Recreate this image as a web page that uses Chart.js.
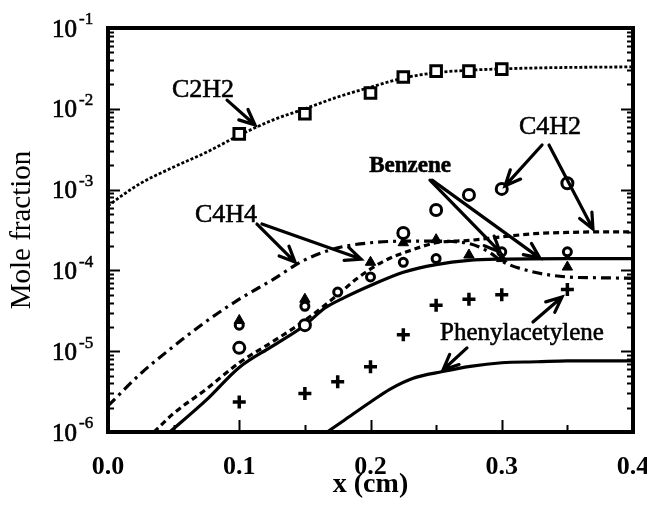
<!DOCTYPE html>
<html><head><meta charset="utf-8">
<script src="https://cdn.jsdelivr.net/npm/chart.js@4/dist/chart.umd.min.js"></script>
<style>html,body{margin:0;padding:0;background:#fff;}#wrap{position:relative;width:647px;height:505px;}</style>
</head><body><div id="wrap"><canvas id="c" width="647" height="505" style="width:647px;height:505px"></canvas></div>
<script>
const c2h2X = [0.1, 0.15, 0.2, 0.225, 0.25, 0.275, 0.3];
const c2h2Y = [4.9e-3, 8.7e-3, 1.57e-2, 2.48e-2, 2.93e-2, 2.93e-2, 3.1e-2];
const c4h2X = [0.1, 0.15, 0.225, 0.25, 0.275, 0.3, 0.35];
const c4h2Y = [1.1e-5, 2.1e-5, 2.9e-4, 5.6e-4, 8.6e-4, 1.02e-3, 1.2e-3];
const c4h4X = [0.1, 0.15, 0.2, 0.225, 0.25, 0.275, 0.3, 0.35];
const c4h4Y = [2.4e-5, 4.4e-5, 1.26e-4, 2.2e-4, 2.4e-4, 1.55e-4, 1.4e-4, 1.1e-4];
const benzX = [0.1, 0.15, 0.175, 0.2, 0.225, 0.25, 0.3, 0.35];
const benzY = [2.1e-5, 3.6e-5, 5.4e-5, 8.3e-5, 1.26e-4, 1.4e-4, 1.7e-4, 1.7e-4];
const phenX = [0.1, 0.15, 0.175, 0.2, 0.225, 0.25, 0.275, 0.3, 0.35];
const phenY = [2.35e-6, 3.0e-6, 4.2e-6, 6.4e-6, 1.6e-5, 3.7e-5, 4.4e-5, 5.0e-5, 5.8e-5];

// ---- model curves ----
const c2h2ModelX = [0, 0.01, 0.025, 0.05, 0.075, 0.1, 0.125, 0.15, 0.175, 0.2, 0.225, 0.25, 0.275, 0.3, 0.325, 0.35, 0.375, 0.4];
const c2h2ModelY = [6.3e-4, 8.3e-4, 1.2e-3, 1.9e-3, 2.9e-3, 4.7e-3, 7.2e-3, 1.0e-2, 1.4e-2, 1.85e-2, 2.4e-2, 2.8e-2, 3.0e-2, 3.12e-2, 3.2e-2, 3.25e-2, 3.28e-2, 3.3e-2];
const c4h4ModelX = [0, 0.025, 0.05, 0.075, 0.1, 0.125, 0.15, 0.175, 0.2, 0.225, 0.25, 0.275, 0.29, 0.3, 0.325, 0.35, 0.375, 0.4];
const c4h4ModelY = [2.1e-6, 5.3e-6, 1.15e-5, 2.35e-5, 4.4e-5, 7.6e-5, 1.35e-4, 1.9e-4, 2.2e-4, 2.3e-4, 2.3e-4, 2.15e-4, 1.7e-4, 1.3e-4, 9.5e-5, 8.3e-5, 8.1e-5, 8.0e-5];
const c4h2ModelX = [0.035, 0.05, 0.075, 0.1, 0.125, 0.15, 0.175, 0.19, 0.21, 0.232, 0.25, 0.275, 0.3, 0.325, 0.35, 0.375, 0.4];
const c4h2ModelY = [1e-6, 1.7e-6, 3.4e-6, 7.2e-6, 1.3e-5, 2.4e-5, 5.0e-5, 8.0e-5, 1.3e-4, 1.8e-4, 2.2e-4, 2.35e-4, 2.6e-4, 2.85e-4, 2.95e-4, 3.0e-4, 3.0e-4];
const benzModelX = [0.047, 0.075, 0.1, 0.125, 0.15, 0.165, 0.18, 0.2, 0.225, 0.25, 0.275, 0.3, 0.35, 0.4];
const benzModelY = [1e-6, 2.5e-6, 6.3e-6, 1.15e-5, 2.1e-5, 3.4e-5, 4.6e-5, 6.5e-5, 9.5e-5, 1.18e-4, 1.33e-4, 1.38e-4, 1.4e-4, 1.4e-4];
const phenModelX = [0.167, 0.18, 0.2, 0.215, 0.232, 0.255, 0.276, 0.3, 0.327, 0.35, 0.4];
const phenModelY = [1e-6, 1.4e-6, 2.35e-6, 3.4e-6, 4.6e-6, 5.6e-6, 6.5e-6, 7.2e-6, 7.4e-6, 7.6e-6, 7.6e-6];

// ---- axis ticks ----
const xTickLabels = ['0.0', '0.1', '0.2', '0.3', '0.4'];
const yDecades = [-6, -5, -4, -3, -2, -1];

// ---- annotations (data coordinates) ----
const labels = [
  {text: 'C2H2', x: 0.0724, y: 1.71e-2, font: '26px'},
  {text: 'C4H4', x: 0.0899, y: 4.85e-4, font: '26px'},
  {text: 'C4H2', x: 0.3368, y: 5.96e-3, font: '26px'},
  {text: 'Benzene', x: 0.2301, y: 1.96e-3, font: 'bold 23px'},
  {text: 'Phenylacetylene', x: 0.3154, y: 1.68e-5, font: '25px'}
];
const arrows = [
  {x0: 0.0907, y0: 1.28e-2, x1: 0.112, y1: 6.3e-3},
  {x0: 0.1135, y0: 3.75e-4, x1: 0.1425, y1: 1.27e-4},
  {x0: 0.1173, y0: 3.75e-4, x1: 0.1928, y1: 1.38e-4},
  {x0: 0.3307, y0: 3.56e-3, x1: 0.3025, y1: 1.11e-3},
  {x0: 0.336, y0: 3.56e-3, x1: 0.3695, y1: 3.25e-4},
  {x0: 0.2453, y0: 1.31e-3, x1: 0.2987, y1: 1.69e-4},
  {x0: 0.2469, y0: 1.31e-3, x1: 0.3291, y1: 1.42e-4},
  {x0: 0.3238, y0: 2.30e-5, x1: 0.3459, y1: 4.69e-5},
  {x0: 0.2735, y0: 1.10e-5, x1: 0.2552, y1: 5.85e-6}
];

const pts = (xs, ys) => xs.map((x, i) => ({x: x, y: ys[i]}));
const FONT = '"Liberation Serif", "Times New Roman", serif';

const markerDs = (label, xs, ys, style, r, fill, bw) => ({
  label, data: pts(xs, ys), showLine: false, pointStyle: style, pointRadius: r,
  pointBackgroundColor: fill, pointBorderColor: '#000', pointBorderWidth: bw, order: 0
});
const lineDs = (label, xs, ys, dash, w) => ({
  label, data: pts(xs, ys), showLine: true, pointRadius: 0, borderColor: '#000',
  borderWidth: w, borderDash: dash, cubicInterpolationMode: 'monotone', fill: false, order: 1
});

function heavyText(ctx, t, x, y, sw) {
  ctx.fillText(t, x, y);
  ctx.lineWidth = sw;
  ctx.strokeText(t, x, y);
}

const framePlugin = {
  id: 'frame',
  afterDatasetsDraw(chart) {
    const {ctx, chartArea: a, scales: {x, y}} = chart;
    ctx.save();
    ctx.strokeStyle = '#000';
    ctx.lineWidth = 2;
    ctx.beginPath();
    yDecades.forEach(d => {
      for (let m = 1; m <= 9; m++) {
        const v = m * Math.pow(10, d);
        if (v > 0.1 + 1e-12) continue;
        const py = Math.round(y.getPixelForValue(v)) + 0.5;
        const len = m === 1 ? 12 : 6;
        ctx.moveTo(a.left, py); ctx.lineTo(a.left + len, py);
        ctx.moveTo(a.right, py); ctx.lineTo(a.right - len, py);
      }
    });
    for (let k = 1; k < 8; k++) {
      const v = k * 0.05;
      const px = Math.round(x.getPixelForValue(v)) + 0.5;
      const len = k % 2 === 0 ? 12 : 7;
      ctx.moveTo(px, a.bottom); ctx.lineTo(px, a.bottom - len);
    }
    ctx.stroke();
    ctx.lineWidth = 4;
    ctx.strokeRect(a.left, a.top, a.right - a.left, a.bottom - a.top);
    ctx.fillStyle = '#000';
    yDecades.forEach(d => {
      const py = y.getPixelForValue(Math.pow(10, d));
      ctx.font = '25px ' + FONT;
      ctx.textAlign = 'right'; ctx.textBaseline = 'middle';
      heavyText(ctx, '10', a.left - 31, py + 2, 0.7);
      ctx.font = '17px ' + FONT;
      ctx.textAlign = 'left';
      heavyText(ctx, String(d), a.left - 29, py - 8, 0.5);
    });
    ctx.restore();
  },
  afterDraw(chart) {
    const {ctx, scales: {x, y}} = chart;
    ctx.save();
    ctx.fillStyle = '#000'; ctx.strokeStyle = '#000';
    labels.forEach(l => {
      ctx.font = l.font + ' ' + FONT;
      ctx.textAlign = 'center'; ctx.textBaseline = 'middle';
      heavyText(ctx, l.text, x.getPixelForValue(l.x), y.getPixelForValue(l.y), 0.6);
    });
    ctx.lineWidth = 3.2; ctx.lineCap = 'round';
    arrows.forEach(ar => {
      const x0 = x.getPixelForValue(ar.x0), y0 = y.getPixelForValue(ar.y0);
      const x1 = x.getPixelForValue(ar.x1), y1 = y.getPixelForValue(ar.y1);
      const ang = Math.atan2(y1 - y0, x1 - x0);
      const L = 17, h = 0.42;
      ctx.beginPath();
      ctx.moveTo(x0, y0); ctx.lineTo(x1, y1);
      ctx.moveTo(x1 - L * Math.cos(ang - h), y1 - L * Math.sin(ang - h));
      ctx.lineTo(x1, y1);
      ctx.lineTo(x1 - L * Math.cos(ang + h), y1 - L * Math.sin(ang + h));
      ctx.stroke();
    });
    ctx.restore();
  }
};

new Chart(document.getElementById('c'), {
  type: 'scatter',
  data: {
    datasets: [
      markerDs('C2H2 data', c2h2X, c2h2Y, 'rect', 7.5, '#fff', 3),
      markerDs('C4H2 data', c4h2X, c4h2Y, 'circle', 5.5, '#fff', 3),
      markerDs('C4H4 data', c4h4X, c4h4Y, 'triangle', 6, '#000', 1),
      markerDs('Benzene data', benzX, benzY, 'circle', 4, '#fff', 3),
      markerDs('Phenylacetylene data', phenX, phenY, 'cross', 6.5, '#000', 3.5),
      lineDs('C2H2 model', c2h2ModelX, c2h2ModelY, [3, 2], 2.8),
      lineDs('C4H4 model', c4h4ModelX, c4h4ModelY, [10, 5, 3, 5], 3.2),
      lineDs('C4H2 model', c4h2ModelX, c4h2ModelY, [6, 4], 3.2),
      lineDs('Benzene model', benzModelX, benzModelY, [], 3.2),
      lineDs('Phenylacetylene model', phenModelX, phenModelY, [], 3.2)
    ]
  },
  options: {
    responsive: false,
    animation: false,
    devicePixelRatio: 1,
    layout: {padding: {left: 0, right: 14, top: 28, bottom: 0}},
    plugins: {legend: {display: false}, tooltip: {enabled: false}},
    scales: {
      x: {
        type: 'linear', min: 0, max: 0.4,
        grid: {display: false, drawTicks: false}, border: {display: false},
        afterBuildTicks(s) { s.ticks = xTickLabels.map(t => ({value: parseFloat(t)})); },
        ticks: {
          callback: (v, i) => xTickLabels[i], color: '#000', padding: 20, maxRotation: 0,
          autoSkip: false, font: {family: FONT, size: 26, weight: 'bold'}
        },
        title: {display: true, text: 'x (cm)', color: '#000', padding: {top: 0, bottom: 3},
          font: {family: FONT, size: 28, weight: 'bold'}},
        afterFit(s) { s.height = 73; s.paddingLeft = 0; s.paddingRight = 0; }
      },
      y: {
        type: 'logarithmic', min: 1e-6, max: 1e-1,
        grid: {display: false, drawTicks: false}, border: {display: false},
        ticks: {display: false},
        title: {display: true, text: 'Mole fraction', color: '#000', padding: {top: 5, bottom: 0},
          font: {family: FONT, size: 29}},
        afterFit(s) { s.width = 108; s.paddingTop = 0; s.paddingBottom = 0; }
      }
    }
  },
  plugins: [framePlugin]
});
</script></body></html>
